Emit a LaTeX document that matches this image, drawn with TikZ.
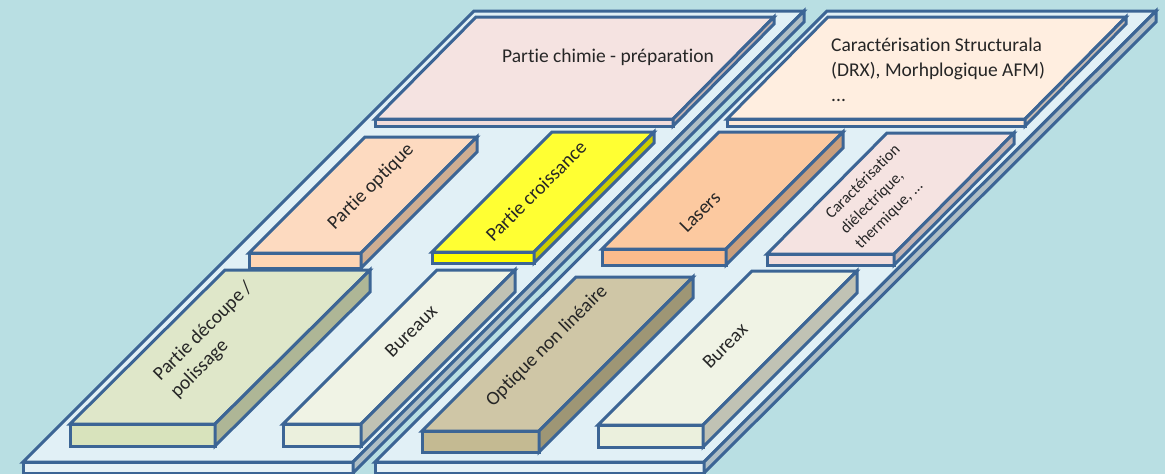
\documentclass[tikz,border=0pt]{standalone}
\usepackage{fontspec}
\setmainfont[Ligatures=NoCommon]{Carlito}
\definecolor{bgc}{HTML}{B9DFE3}
\definecolor{edge}{HTML}{3C6595}
\definecolor{platT}{HTML}{E1F0F6}
\definecolor{platF}{HTML}{E6F2F7}
\definecolor{platS}{HTML}{B0BFC6}
\definecolor{chimT}{HTML}{F5E3E1}
\definecolor{chimF}{HTML}{F2DCDB}
\definecolor{chimS}{HTML}{C4B5B4}
\definecolor{strT}{HTML}{FFEEE0}
\definecolor{strF}{HTML}{FDE9D9}
\definecolor{strS}{HTML}{CCBEB3}
\definecolor{optT}{HTML}{FDDAC0}
\definecolor{optF}{HTML}{FFD5B4}
\definecolor{optS}{HTML}{CFAE92}
\definecolor{croT}{HTML}{FFFF33}
\definecolor{croF}{HTML}{FFFF00}
\definecolor{croS}{HTML}{CCCC00}
\definecolor{lasT}{HTML}{FCC9A0}
\definecolor{lasF}{HTML}{FBBB8C}
\definecolor{lasS}{HTML}{C99E7C}
\definecolor{decT}{HTML}{DFE7C9}
\definecolor{decF}{HTML}{D8E3BC}
\definecolor{decS}{HTML}{AEB696}
\definecolor{burT}{HTML}{F0F3E5}
\definecolor{burF}{HTML}{EBF0DD}
\definecolor{burS}{HTML}{C0C2B4}
\definecolor{nliT}{HTML}{CFC6A6}
\definecolor{nliF}{HTML}{C4BA92}
\definecolor{nliS}{HTML}{9E9675}
\tikzset{
  slabline/.style={draw=edge,line width=3pt,line join=miter},
  lbl/.style={text=black!85,inner sep=0pt,align=center,font=\fontsize{19.5}{25}\selectfont},
  lblrot/.style={lbl,rotate=45},
}
% xl, xr, ytop, ybot, dx, yback, prefix
\newcommand{\slab}[7]{%
  \path[slabline,fill=#7F] (#1,#3) rectangle (#2,#4);
  \path[slabline,fill=#7T] (#1,#3) -- (#2,#3) -- ({#2+#5},#6) -- ({#1+#5},#6) -- cycle;
  \path[slabline,fill=#7S] (#2,#3) -- ({#2+#5},#6) -- ({#2+#5},{#6+#4-#3}) -- (#2,#4) -- cycle;
}
\begin{document}
\begin{tikzpicture}[x=1pt,y=-1pt]
\useasboundingbox (0,0) rectangle (1165,474);
\fill[bgc] (0,0) rectangle (1165,474);
\begin{scope}
\clip (0,0) rectangle (1165,474);
\slab{23}{353}{462}{473}{451}{11}{plat}
\slab{375}{704}{462}{473}{452}{11}{plat}
\slab{375}{673}{119}{126}{101}{17}{chim}
\slab{727}{1025}{119}{126}{101}{17}{str}
\slab{249}{361}{253}{268}{116}{137}{opt}
\slab{432}{534}{252}{263}{120}{132}{cro}
\slab{602}{726}{249}{265}{117}{132}{las}
\slab{767}{894}{254}{265}{120}{133}{chim}
\slab{70}{215}{424}{446}{155}{270}{dec}
\slab{283}{361}{424}{446}{154}{270}{bur}
\slab{422}{539}{431}{452}{154}{277}{nli}
\slab{598}{703}{425}{447}{154}{271}{bur}
\end{scope}
\node[lbl] (chimie) at (608,57) {Partie chimie - préparation};
\node[lbl,align=left,anchor=north west] (struct) at (831,38) {Caractérisation Structurala\\(DRX), Morhplogique AFM)\\...};
\node[lblrot] (optique) at (371,187) {Partie optique};
\node[lblrot] (croissance) at (536,191) {Partie croissance};
\node[lblrot] (lasers) at (700,212) {Lasers};
\node[lblrot,align=left,font=\fontsize{16}{21}\selectfont] (dielec) at (878,197) {Caractérisation\\diélectrique,\\thermique, ...};
\node[lblrot,align=left,font=\fontsize{19.5}{24}\selectfont] (decoupe) at (212,340) {Partie découpe /\\polissage};
\node[lblrot] (bureaux) at (411,331) {Bureaux};
\node[lblrot] (nonlin) at (547,346) {Optique non linéaire};
\node[lblrot] (bureax) at (725,346) {Bureax};
\end{tikzpicture}
\end{document}
